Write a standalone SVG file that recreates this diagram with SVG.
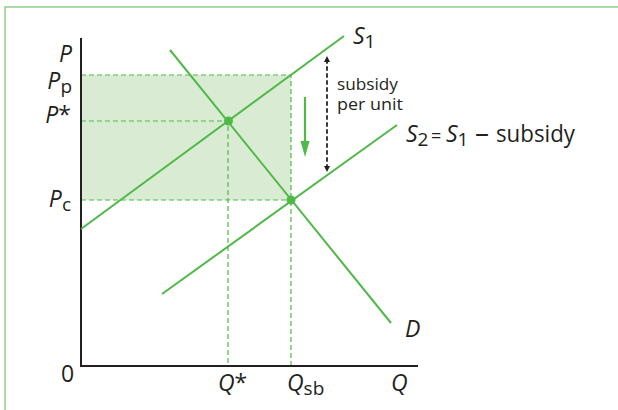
<svg xmlns="http://www.w3.org/2000/svg" width="618" height="410" viewBox="0 0 618 410">
<defs>
<style>
.txt{font-family:"Open Sans","Liberation Sans",sans-serif;fill:#231f20}
.it{font-style:italic}
.curve{stroke:#4fb948;stroke-width:2;fill:none}
.gdash{stroke:#4fb948;stroke-width:1.2;stroke-dasharray:5,3;fill:none}
.axis{stroke:#231f20;stroke-width:2;fill:none}
</style>
<marker id="bh" viewBox="0 0 10 10" refX="10" refY="5" markerWidth="6" markerHeight="8" markerUnits="userSpaceOnUse" orient="auto"><path d="M0,0 L10,5 L0,10 z" fill="#231f20"/></marker>
</defs>
<rect x="0" y="0" width="618" height="410" fill="#ffffff"/>
<path d="M5,410 V7 H618" stroke="#8fd08a" stroke-width="1.5" fill="none"/>
<g id="area"><rect x="81" y="75" width="210" height="125" fill="#d9ecd3"/></g>
<g id="guides">
<path class="gdash" d="M81,75 H291 V366"/>
<path class="gdash" d="M81,121 H228 V366"/>
<path class="gdash" d="M81,200 H291"/>
</g>
<g id="axes">
<path class="axis" d="M81,38 V366 H418"/>
</g>
<g id="connectors">
<path id="S1" class="curve" d="M81,229 L344,36"/>
<path id="S2" class="curve" d="M162,294 L397,125"/>
<path id="D" class="curve" d="M170,50 L391,323"/>
<path d="M305,97 V143" stroke="#4fb948" stroke-width="2.2"/>
<path d="M300.5,141 L309.5,141 L305,157 z" fill="#4fb948"/>
<path d="M327,168 V56" stroke="#231f20" stroke-width="1.3" stroke-dasharray="4,3" fill="none" marker-end="url(#bh)"/>
<path d="M327,60 V172" stroke="#231f20" stroke-width="1.3" stroke-dasharray="4,3" fill="none" marker-end="url(#bh)"/>
</g>
<g id="eq1"><circle cx="228.5" cy="121" r="4.5" fill="#4fb948"/></g>
<g id="eq2"><circle cx="291" cy="200" r="4.5" fill="#4fb948"/></g>
<g id="labels" class="txt" font-size="23">
<text class="txt it" x="72" y="62" text-anchor="end">P</text>
<text class="txt" x="72" y="89" text-anchor="end"><tspan class="it">P</tspan><tspan font-size="19" dy="4">p</tspan></text>
<text class="txt" x="71" y="123" text-anchor="end"><tspan class="it">P</tspan>*</text>
<text class="txt" x="71" y="207" text-anchor="end"><tspan class="it">P</tspan><tspan font-size="19" dy="4">c</tspan></text>
<text class="txt" x="61" y="382">0</text>
<text class="txt" x="218" y="391"><tspan class="it">Q</tspan>*</text>
<text class="txt" x="287" y="391"><tspan class="it">Q</tspan><tspan font-size="19" dy="4">sb</tspan></text>
<text class="txt it" x="391" y="391">Q</text>
<text class="txt it" x="405" y="337">D</text>
<text class="txt" x="353" y="44"><tspan class="it">S</tspan><tspan font-size="19" dy="4">1</tspan></text>
<text class="txt" x="406" y="142"><tspan class="it">S</tspan><tspan font-size="19" dy="4">2</tspan></text>
<text class="txt" x="431" y="142" font-size="18">=</text>
<text class="txt" x="446" y="142"><tspan class="it">S</tspan><tspan font-size="19" dy="4">1</tspan></text>
<text class="txt" x="475" y="142" font-size="28">–</text>
<text class="txt" x="496" y="142" textLength="79" lengthAdjust="spacingAndGlyphs">subsidy</text>
<text class="txt" x="337" y="90" font-size="17" textLength="61" lengthAdjust="spacingAndGlyphs">subsidy</text>
<text class="txt" x="337" y="110" font-size="17" textLength="66" lengthAdjust="spacingAndGlyphs">per unit</text>
</g>
</svg>
